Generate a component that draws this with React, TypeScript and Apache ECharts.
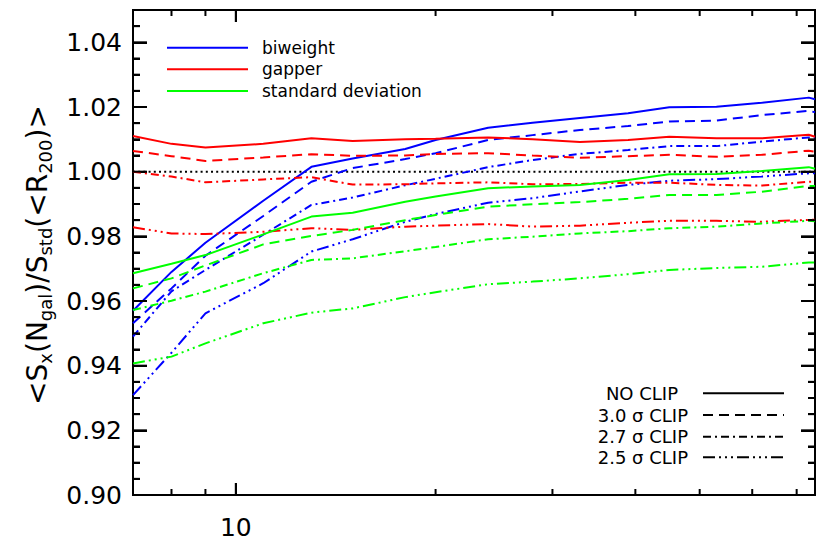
import React, { useEffect, useRef } from 'react';
import * as echarts from 'echarts';

// Mean number of galaxies per bin (log-spaced)
const nGal = [7, 8, 9, 11, 13, 15, 18, 20, 24, 28, 33, 39, 45, 53, 62, 73, 74.6];

// <S_x(Ngal)> / S_std(<R200)> for each estimator and clipping level
const biweightNoClip = [0.957, 0.969, 0.978, 0.991, 1.0015, 1.0041, 1.007, 1.0098, 1.0136, 1.0151, 1.0166, 1.0181, 1.0199, 1.0201, 1.0213, 1.0229, 1.0224];
const biweightClip30 = [0.9531, 0.9639, 0.974, 0.9863, 0.9969, 1.0011, 1.0039, 1.0057, 1.0098, 1.0113, 1.0129, 1.0141, 1.0155, 1.0158, 1.0175, 1.0188, 1.0184];
const biweightClip27 = [0.949, 0.963, 0.9696, 0.9805, 0.9897, 0.992, 0.9958, 0.9978, 1.0014, 1.0036, 1.0055, 1.0067, 1.0079, 1.0079, 1.0093, 1.0106, 1.0105];
const biweightClip25 = [0.9309, 0.944, 0.9562, 0.9655, 0.9753, 0.9791, 0.9845, 0.9869, 0.9904, 0.9918, 0.9939, 0.9959, 0.9972, 0.9977, 0.9985, 0.9995, 0.9995];

const gapperNoClip = [1.011, 1.0086, 1.0075, 1.0086, 1.0103, 1.0095, 1.01, 1.0102, 1.0106, 1.01, 1.0092, 1.0098, 1.0108, 1.0103, 1.0103, 1.0114, 1.0108];
const gapperClip30 = [1.0064, 1.0048, 1.0033, 1.0044, 1.0054, 1.0049, 1.005, 1.0055, 1.0057, 1.005, 1.0043, 1.0048, 1.0052, 1.0046, 1.0052, 1.0065, 1.0062];
const gapperClip27 = [1.0, 0.9985, 0.9967, 0.9976, 0.9983, 0.996, 0.9961, 0.9964, 0.9967, 0.9961, 0.9962, 0.9966, 0.9966, 0.9959, 0.9957, 0.9969, 0.9969];
const gapperClip25 = [0.9828, 0.9809, 0.9807, 0.9814, 0.9825, 0.982, 0.983, 0.9833, 0.9838, 0.983, 0.9833, 0.9842, 0.9848, 0.9848, 0.9845, 0.9851, 0.9851];

const stdNoClip = [0.9686, 0.9715, 0.9742, 0.9806, 0.9861, 0.9873, 0.9907, 0.9923, 0.9949, 0.9954, 0.9959, 0.9974, 0.9992, 0.9993, 1.0002, 1.0014, 1.0009];
const stdClip30 = [0.9639, 0.967, 0.971, 0.9775, 0.9801, 0.982, 0.985, 0.9866, 0.9892, 0.9899, 0.9906, 0.9916, 0.9928, 0.9928, 0.9938, 0.9956, 0.9956];
const stdClip27 = [0.9572, 0.9601, 0.9629, 0.9686, 0.9727, 0.9732, 0.9754, 0.9767, 0.9791, 0.9799, 0.9809, 0.9816, 0.9825, 0.983, 0.984, 0.9848, 0.9847];
const stdClip25 = [0.9407, 0.9428, 0.9469, 0.9531, 0.9564, 0.9577, 0.9612, 0.9627, 0.9652, 0.966, 0.967, 0.9683, 0.9696, 0.9702, 0.9706, 0.9719, 0.9719];

// Reference ratio of unity
const unityLine = [1.0, 1.0];

const estimatorNames = ['biweight', 'gapper', 'standard deviation'];
const clipNames = ['NO CLIP', '3.0 σ CLIP', '2.7 σ CLIP', '2.5 σ CLIP'];
const xTickValues = [8, 9, 10, 20, 30, 40, 50, 60, 70];
const xMajorTicks = [10];
const yTickLabels = ['0.90', '0.92', '0.94', '0.96', '0.98', '1.00', '1.02', '1.04'];

const X_MIN = 7;
const X_MAX = 74.6;
const Y_MIN = 0.9;
const Y_MAX = 1.05;
const Y_MAJOR = 0.02;
const Y_MINOR = 0.005;

const W = 818;
const H = 542;
const GRID = { left: 133, right: 1, top: 10, bottom: 47 };

const FONT = 'DejaVu Sans';
const COLORS = ['#0000ff', '#ff0000', '#00ff00'];
const DASHES: any[] = ['solid', [10, 6], [8, 4, 2, 4], [12, 4, 2, 4, 2, 4, 2, 4]];

const seriesTable = [
  [biweightNoClip, biweightClip30, biweightClip27, biweightClip25],
  [gapperNoClip, gapperClip30, gapperClip27, gapperClip25],
  [stdNoClip, stdClip30, stdClip27, stdClip25],
];

// Short inward tick segments expressed in data units of the plot's scales
function tickSeries() {
  const pxPerUnitY = (H - GRID.top - GRID.bottom) / (Y_MAX - Y_MIN);
  const pxPerDecade = (W - GRID.left - GRID.right) / Math.log10(X_MAX / X_MIN);
  const segs: number[][][] = [];

  xTickValues.forEach((v) => {
    const d = (xMajorTicks.includes(v) ? 12 : 6) / pxPerUnitY;
    segs.push([[v, Y_MIN], [v, Y_MIN + d]]);
    segs.push([[v, Y_MAX], [v, Y_MAX - d]]);
  });

  const perMajor = Math.round(Y_MAJOR / Y_MINOR);
  const nMinor = Math.round((Y_MAX - Y_MIN) / Y_MINOR);
  for (let k = 1; k < nMinor; k++) {
    const v = Y_MIN + k * Y_MINOR;
    const f = Math.pow(10, (k % perMajor === 0 ? 14 : 7) / pxPerDecade);
    segs.push([[X_MIN, v], [X_MIN * f, v]]);
    segs.push([[X_MAX, v], [X_MAX / f, v]]);
  }

  return segs.map((data) => ({
    type: 'line',
    data,
    symbol: 'none',
    clip: false,
    lineStyle: { color: '#000', width: 2, type: 'solid' },
    z: 4,
  }));
}

const yAxisFor = (position: 'left' | 'right', showLabel: boolean) => ({
  type: 'value',
  position,
  min: Y_MIN,
  max: Y_MAX,
  interval: Y_MAJOR,
  axisLine: { show: true, onZero: false, lineStyle: { color: '#000', width: 2 } },
  splitLine: { show: false },
  axisTick: { show: true, inside: true, length: 14, lineStyle: { color: '#000', width: 2 } },
  minorTick: { show: true, splitNumber: 4, length: 7, lineStyle: { color: '#000', width: 2 } },
  axisLabel: {
    show: showLabel,
    margin: 11,
    color: '#000',
    fontSize: 25,
    fontFamily: FONT,
    formatter: (v: number) => {
      const idx = Math.round((v - Y_MIN) / Y_MAJOR);
      return Math.abs(v - (Y_MIN + idx * Y_MAJOR)) < 1e-6 && yTickLabels[idx] ? yTickLabels[idx] : '';
    },
  },
});

const xAxisFor = (position: 'bottom' | 'top', showLabel: boolean) => ({
  type: 'log',
  logBase: 10,
  position,
  min: X_MIN,
  max: X_MAX,
  axisLine: { show: true, onZero: false, lineStyle: { color: '#000', width: 2 } },
  axisTick: { show: true, inside: true, length: 12, lineStyle: { color: '#000', width: 2 } },
  splitLine: { show: false },
  minorTick: { show: false },
  axisLabel: {
    show: showLabel,
    color: '#000',
    fontSize: 25,
    fontFamily: FONT,
    margin: 20,
    formatter: (v: number) => (Math.abs(v - 10) < 1e-6 ? '10' : ''),
  },
});

function buildOption() {
  const lineSeries: any[] = [
    {
      type: 'line',
      name: 'unity',
      data: [[X_MIN, unityLine[0]], [X_MAX, unityLine[1]]],
      symbol: 'none',
      lineStyle: { color: '#000', width: 2, type: [2, 3.2] },
      z: 2,
    },
  ];
  seriesTable.forEach((group, e) => {
    group.forEach((vals, c) => {
      lineSeries.push({
        type: 'line',
        name: `${estimatorNames[e]} ${clipNames[c]}`,
        data: nGal.map((x, i) => [x, vals[i]]),
        symbol: 'none',
        lineStyle: { color: COLORS[e], width: 2, type: DASHES[c] },
        z: 3,
      });
    });
  });

  const graphics: any[] = [];
  const legendY = [47.7, 69.3, 91];
  estimatorNames.forEach((name, i) => {
    graphics.push({
      type: 'line',
      shape: { x1: 167, y1: legendY[i], x2: 248, y2: legendY[i] },
      style: { stroke: COLORS[i], lineWidth: 2 },
    });
    graphics.push({
      type: 'text',
      x: 262,
      y: legendY[i],
      style: { text: name, fill: '#000', font: `17px "${FONT}"`, align: 'left', verticalAlign: 'middle' },
    });
  });

  const clipY = [393.3, 415, 436.7, 457.3];
  const clipTextRight = [678, 688, 688, 688];
  clipNames.forEach((name, i) => {
    graphics.push({
      type: 'line',
      shape: { x1: 703, y1: clipY[i], x2: 784, y2: clipY[i] },
      style: { stroke: '#000', lineWidth: 2, lineDash: DASHES[i] === 'solid' ? null : DASHES[i] },
    });
    graphics.push({
      type: 'text',
      x: clipTextRight[i],
      y: clipY[i],
      style: { text: name, fill: '#000', font: `18px "${FONT}"`, align: 'right', verticalAlign: 'middle' },
    });
  });

  graphics.push({
    type: 'text',
    x: 37,
    y: 255,
    rotation: Math.PI / 2,
    style: {
      text: '{m|<S}{s|x}{m|(N}{s|gal}{m|)/S}{s|std}{m|(<R}{s|200}{m|)>}',
      align: 'center',
      verticalAlign: 'middle',
      fill: '#000',
      rich: {
        m: { fontSize: 28, fontFamily: FONT, lineHeight: 34, fill: '#000' },
        s: { fontSize: 18, fontFamily: FONT, lineHeight: 18, verticalAlign: 'bottom', fill: '#000' },
      },
    },
  });

  return {
    animation: false,
    grid: {
      ...GRID,
      show: true,
      borderColor: '#000',
      borderWidth: 2,
    },
    xAxis: [xAxisFor('bottom', true), xAxisFor('top', false)],
    yAxis: [yAxisFor('left', true), yAxisFor('right', false)],
    series: [...lineSeries, ...tickSeries()],
    graphic: graphics,
  };
}

export default function App() {
  const ref = useRef<HTMLDivElement>(null);
  useEffect(() => {
    if (!ref.current) return;
    const chart = echarts.init(ref.current, undefined, { renderer: 'svg' });
    chart.setOption(buildOption() as any);
    return () => chart.dispose();
  }, []);
  return (
    <div
      ref={ref}
      style={{ position: 'fixed', left: 0, top: 0, width: W, height: H, background: '#fff' }}
    />
  );
}
